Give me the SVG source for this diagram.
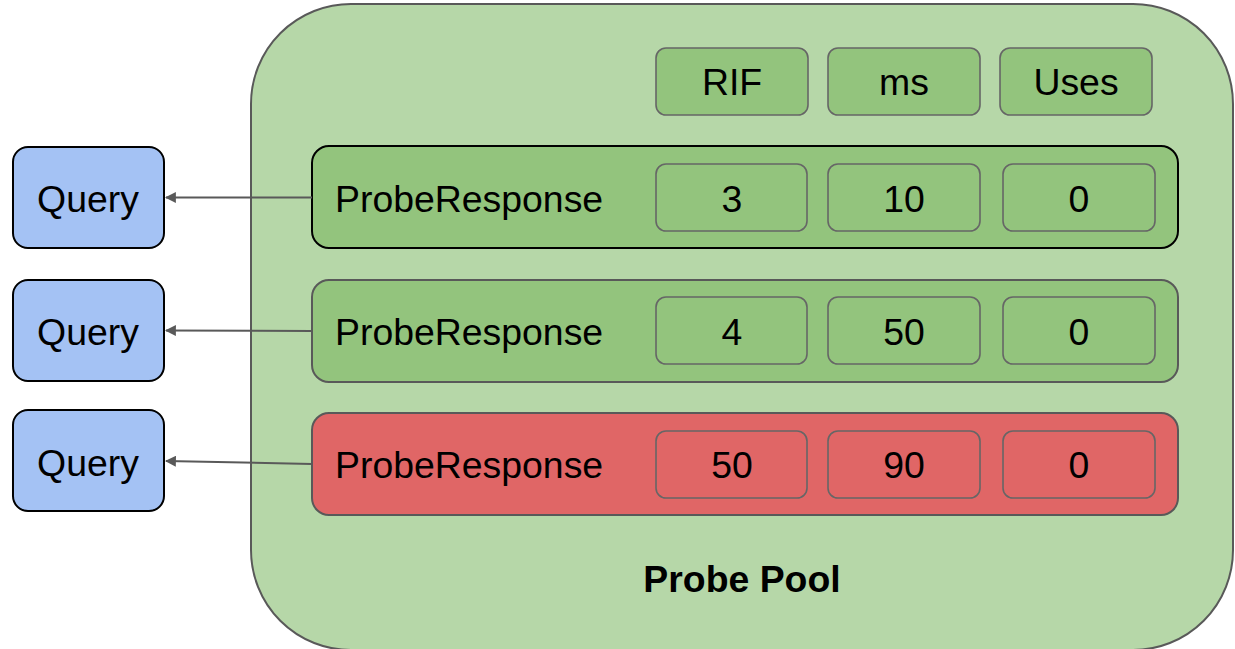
<svg xmlns="http://www.w3.org/2000/svg" width="1235" height="649" viewBox="0 0 1235 649">
  <style>
    text { font-family: "Liberation Sans", Arial, sans-serif; font-size: 37.4px; fill: #000; text-anchor: middle; }
    .pool { fill: #b6d7a8; stroke: #595959; stroke-width: 2; }
    .query { fill: #a4c2f4; stroke: #000; stroke-width: 2; }
    .row { fill: #93c47d; stroke: #595959; stroke-width: 2; }
    .row.active { stroke: #000; }
    .row.bad { fill: #e06666; }
    .cell { fill: #93c47d; stroke: #666; stroke-width: 1.6; }
    .cell.bad { fill: #e06666; }
    .label { text-anchor: start; }
    .title { font-weight: bold; }
    .edge { fill: none; stroke: #595959; stroke-width: 2; }
  </style>
  <defs>
    <marker id="arrow" viewBox="0 0 10 10" refX="9" refY="5" markerWidth="5.5" markerHeight="5.5" orient="auto" markerUnits="strokeWidth">
      <path d="M0,0 L10,5 L0,10 z" fill="#595959"/>
    </marker>
  </defs>

  <!-- pool container -->
  <g id="probe-pool">
    <rect class="pool" x="251" y="4" width="982" height="646" rx="100" ry="100"/>
    <text class="title" x="742" y="592">Probe Pool</text>
  </g>

  <!-- column headers -->
  <g id="header-rif">
    <rect class="cell" x="656" y="48" width="152" height="67" rx="10"/>
    <text x="732" y="95">RIF</text>
  </g>
  <g id="header-ms">
    <rect class="cell" x="828" y="48" width="152" height="67" rx="10"/>
    <text x="904" y="95">ms</text>
  </g>
  <g id="header-uses">
    <rect class="cell" x="1000" y="48" width="152" height="67" rx="10"/>
    <text x="1076" y="95">Uses</text>
  </g>

  <!-- probe responses -->
  <g id="probe-1">
    <rect class="row active" x="312" y="146" width="866" height="102" rx="17"/>
    <text class="label" x="335" y="212">ProbeResponse</text>
    <rect class="cell" x="656" y="164" width="151" height="67" rx="10"/>
    <text x="732" y="212">3</text>
    <rect class="cell" x="828" y="164" width="152" height="67" rx="10"/>
    <text x="904" y="212">10</text>
    <rect class="cell" x="1003" y="164" width="152" height="67" rx="10"/>
    <text x="1079" y="212">0</text>
  </g>
  <g id="probe-2">
    <rect class="row" x="312" y="280" width="866" height="102" rx="17"/>
    <text class="label" x="335" y="345">ProbeResponse</text>
    <rect class="cell" x="656" y="297" width="151" height="67" rx="10"/>
    <text x="732" y="345">4</text>
    <rect class="cell" x="828" y="297" width="152" height="67" rx="10"/>
    <text x="904" y="345">50</text>
    <rect class="cell" x="1003" y="297" width="152" height="67" rx="10"/>
    <text x="1079" y="345">0</text>
  </g>
  <g id="probe-3">
    <rect class="row bad" x="312" y="413" width="866" height="102" rx="17"/>
    <text class="label" x="335" y="478">ProbeResponse</text>
    <rect class="cell bad" x="656" y="431" width="151" height="67" rx="10"/>
    <text x="732" y="478">50</text>
    <rect class="cell bad" x="828" y="431" width="152" height="67" rx="10"/>
    <text x="904" y="478">90</text>
    <rect class="cell bad" x="1003" y="431" width="152" height="67" rx="10"/>
    <text x="1079" y="478">0</text>
  </g>

  <!-- queries -->
  <g id="query-1">
    <rect class="query" x="13" y="147" width="151" height="101" rx="15"/>
    <text x="88" y="212">Query</text>
  </g>
  <g id="query-2">
    <rect class="query" x="13" y="280" width="151" height="101" rx="15"/>
    <text x="88" y="345">Query</text>
  </g>
  <g id="query-3">
    <rect class="query" x="13" y="410" width="151" height="101" rx="15"/>
    <text x="88" y="476">Query</text>
  </g>

  <!-- connectors -->
  <g id="connectors">
    <path class="edge" d="M312,197.5 L166,197.5" marker-end="url(#arrow)"/>
    <path class="edge" d="M312,331 L166,330.5" marker-end="url(#arrow)"/>
    <path class="edge" d="M312,464 L166,461" marker-end="url(#arrow)"/>
  </g>
</svg>
